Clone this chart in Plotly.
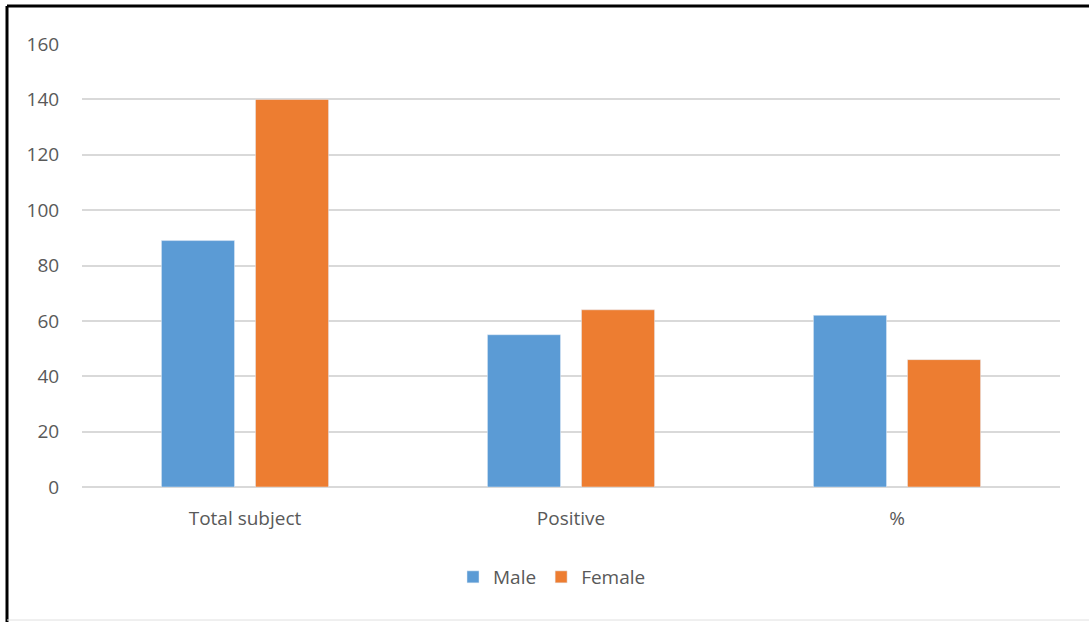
import plotly.graph_objects as go

categories = ["Total subject", "Positive", "%"]
male = [89, 55, 62]
female = [140, 64, 46]
y_ticks = [0, 20, 40, 60, 80, 100, 120, 140, 160]

W, H = 1089, 622
L, R, T, B = 82, 1060, 44, 487

def px_x(px):
    return (px - L) / (R - L)

def px_y(py):
    return (B - py) / (B - T)

fig = go.Figure()
fig.add_trace(go.Bar(name="Male", x=categories, y=male, marker_color="#5B9BD5"))
fig.add_trace(go.Bar(name="Female", x=categories, y=female, marker_color="#ED7D31"))

font_fam = "Open Sans, Noto Sans, sans-serif"
fig.update_layout(
    width=W, height=H,
    margin=dict(l=L, r=W - R, t=T, b=H - B),
    paper_bgcolor="white", plot_bgcolor="white",
    barmode="group", bargap=0.423, bargroupgap=0.223,
    font=dict(family=font_fam, size=19, color="#595959"),
    legend=dict(orientation="h", x=px_x(552), xanchor="center", y=px_y(577), yanchor="middle",
                font=dict(size=19, color="#595959"), itemwidth=30),
    xaxis=dict(showgrid=False, showline=False, ticks="outside", ticklen=14,
               tickcolor="rgba(0,0,0,0)", tickfont=dict(size=19, color="#595959")),
    yaxis=dict(range=[0, 160], tickvals=y_ticks, showgrid=True, gridcolor="#D9D9D9", gridwidth=1.5,
               zeroline=True, zerolinecolor="#D9D9D9", zerolinewidth=1.5,
               ticks="outside", ticklen=18, tickcolor="rgba(0,0,0,0)",
               tickfont=dict(size=19, color="#595959")),
    shapes=[
        dict(type="line", xref="paper", yref="paper", x0=px_x(7), x1=px_x(1089), y0=px_y(6), y1=px_y(6),
             line=dict(color="black", width=3)),
        dict(type="line", xref="paper", yref="paper", x0=px_x(7), x1=px_x(7), y0=px_y(6), y1=px_y(622),
             line=dict(color="black", width=3)),
        dict(type="line", xref="paper", yref="paper", x0=px_x(7), x1=px_x(1089), y0=px_y(620), y1=px_y(620),
             line=dict(color="#E0E0E0", width=1)),
    ],
)

fig.write_html(
    "out.html",
    config={"displayModeBar": False},
    post_script="document.body.style.margin='0';document.documentElement.style.overflow='hidden';document.body.style.overflow='hidden';",
)
